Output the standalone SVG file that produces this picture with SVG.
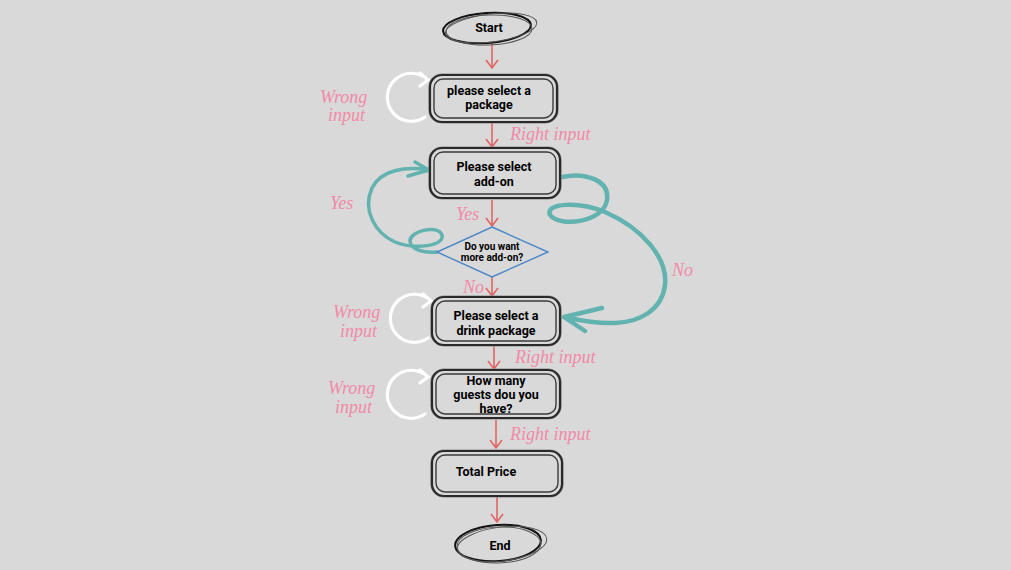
<svg xmlns="http://www.w3.org/2000/svg" width="1011" height="570" viewBox="0 0 1011 570">
<defs>
<style>
.bo{fill:none;stroke:#2a2a2a;stroke-width:2.2}
.bo2{fill:none;stroke:#8a8a8a;stroke-width:1.2}
.bi{fill:none;stroke:#3a3a3a;stroke-width:1.4}
.t{font-family:Roboto,"Liberation Sans",sans-serif;font-weight:bold;font-size:12.5px;fill:#000;text-anchor:middle}
.ts{font-size:10px}
.lb{font-family:"Liberation Serif",serif;font-style:italic;font-size:18px;fill:#f28aa8}
.ar{stroke:#e06666;stroke-width:1.6;fill:none}
.tl{stroke:#62b2b0;fill:none;stroke-linecap:round;stroke-linejoin:round}
.wh{stroke:#ffffff;stroke-width:3.2;fill:none;stroke-linecap:round}
.el{fill:none;stroke:#111;stroke-width:2}
.el2{fill:none;stroke:#555;stroke-width:1}
</style>
</defs>
<rect width="1011" height="570" fill="#d9d9d9"/>

<g id="connectors">
  <path class="ar" d="M492,43 V68 M486,60 L492,68 L498,60"/>
  <path class="ar" d="M492,123 V147 M486,139 L492,147 L498,139"/>
  <path class="ar" d="M492,200 V226 M486,218 L492,226 L498,218"/>
  <path class="ar" d="M492,277 V296 M486,288 L492,296 L498,288"/>
  <path class="ar" d="M494,346 V369 M488,361 L494,369 L500,361"/>
  <path class="ar" d="M496,420 V448 M490,440 L496,448 L502,440"/>
  <path class="ar" d="M497,497 V522 M491,514 L497,522 L503,514"/>
  <path class="tl" stroke-width="3.5" d="M437,252 C425,253 410,250 410,241 C410,231 438,224 442,235 C445,246 415,250 395,242 C375,233 362,210 372,188 C381,170 405,166 429,170 M415,162 L429,170 L408,176"/>
  <path class="tl" stroke-width="4.5" d="M562,177 C585,172 610,180 607,200 C604,222 560,228 550,215 C545,203 578,201 605,212 C642,228 668,258 665,285 C662,310 640,322 615,323 C595,324 578,320 564,317 M602,308 L564,317 L585,331"/>
  <path class="wh" d="M425,117 A24,24 0 1 1 428,80 M420,73 L428,80 L420,86"/>
  <path class="wh" d="M428,338 A24,24 0 1 1 431,301 M423,294 L431,301 L423,307"/>
  <path class="wh" d="M425,414 A24,24 0 1 1 428,377 M420,370 L428,377 L420,383"/>
</g>

<g id="start">
  <ellipse class="el" cx="487" cy="28" rx="44" ry="15" transform="rotate(-4 487 28)"/>
  <ellipse class="el2" cx="491" cy="28" rx="46" ry="14" transform="rotate(-7 491 28)"/>
  <ellipse class="el2" cx="489" cy="30" rx="43" ry="15" transform="rotate(-2 489 30)"/>
  <text class="t" x="489" y="32">Start</text>
</g>

<g id="n1">
  <rect class="bo2" x="429" y="74" width="129" height="49" rx="13"/>
  <rect class="bo" x="430" y="75" width="127" height="47" rx="12"/>
  <rect class="bi" x="434" y="79" width="119" height="39" rx="9"/>
  <text class="t" x="489" y="95">please select a</text>
  <text class="t" x="489" y="109">package</text>
</g>

<g id="n2">
  <rect class="bo2" x="429" y="147" width="132" height="52" rx="13"/>
  <rect class="bo" x="430" y="148" width="130" height="50" rx="12"/>
  <rect class="bi" x="434" y="152" width="122" height="42" rx="9"/>
  <text class="t" x="494" y="171">Please select</text>
  <text class="t" x="494" y="186">add-on</text>
</g>

<g id="n3">
  <polygon points="492,227 548,252 492,277 437,252" fill="none" stroke="#4a86c8" stroke-width="1.4"/>
  <text class="t ts" x="492" y="250">Do you want</text>
  <text class="t ts" x="492" y="261">more add-on?</text>
</g>

<g id="n4">
  <rect class="bo2" x="431" y="296" width="130" height="50" rx="13"/>
  <rect class="bo" x="432" y="297" width="128" height="48" rx="12"/>
  <rect class="bi" x="436" y="301" width="120" height="40" rx="9"/>
  <text class="t" x="496" y="320">Please select a</text>
  <text class="t" x="496" y="335">drink package</text>
</g>

<g id="n5">
  <rect class="bo2" x="431" y="369" width="130" height="50" rx="13"/>
  <rect class="bo" x="432" y="370" width="128" height="48" rx="12"/>
  <rect class="bi" x="436" y="374" width="120" height="40" rx="9"/>
  <text class="t" x="496" y="385">How many</text>
  <text class="t" x="496" y="399">guests dou you</text>
  <text class="t" x="496" y="413">have?</text>
</g>

<g id="n6">
  <rect class="bo2" x="431" y="450" width="132" height="47" rx="13"/>
  <rect class="bo" x="432" y="451" width="130" height="45" rx="12"/>
  <rect class="bi" x="436" y="455" width="122" height="37" rx="9"/>
  <text class="t" x="486" y="476">Total Price</text>
</g>

<g id="end">
  <ellipse class="el" cx="498" cy="543" rx="43" ry="18" transform="rotate(-4 498 543)"/>
  <ellipse class="el2" cx="502" cy="544" rx="45" ry="17" transform="rotate(-7 502 544)"/>
  <ellipse class="el2" cx="499" cy="545" rx="42" ry="18" transform="rotate(-2 499 545)"/>
  <text class="t" x="500" y="550">End</text>
</g>

<g id="labels">
  <text class="lb" x="320" y="103">Wrong</text>
  <text class="lb" x="328" y="121">input</text>
  <text class="lb" x="510" y="140">Right input</text>
  <text class="lb" x="330" y="209">Yes</text>
  <text class="lb" x="456" y="220">Yes</text>
  <text class="lb" x="672" y="276">No</text>
  <text class="lb" x="463" y="293">No</text>
  <text class="lb" x="333" y="318">Wrong</text>
  <text class="lb" x="340" y="337">input</text>
  <text class="lb" x="515" y="363">Right input</text>
  <text class="lb" x="328" y="394">Wrong</text>
  <text class="lb" x="335" y="413">input</text>
  <text class="lb" x="510" y="440">Right input</text>
</g>
</svg>
